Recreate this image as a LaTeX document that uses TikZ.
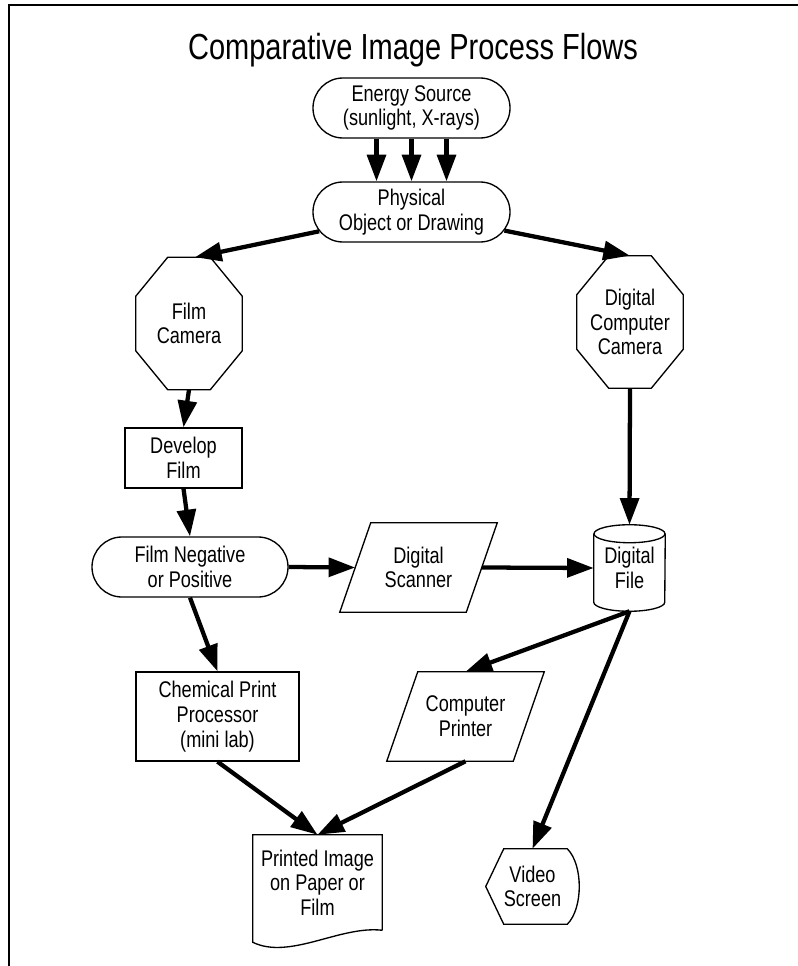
\documentclass[tikz,border=0pt]{standalone}
\usepackage{fontspec}
\setmainfont{Liberation Sans}[FakeStretch=0.8]
\usetikzlibrary{arrows.meta,shapes.misc,calc}
\newcommand{\octo}[1]{\draw[shapeline] ($(#1.north west)+(32,0)$) -- ($(#1.north east)+(-32,0)$) -- ($(#1.north east)+(0,39)$) -- ($(#1.south east)+(0,-39)$) -- ($(#1.south east)+(-32,0)$) -- ($(#1.south west)+(32,0)$) -- ($(#1.south west)+(0,-39)$) -- ($(#1.north west)+(0,39)$) -- cycle;}
\newcommand{\para}[1]{\draw[shapeline] ($(#1.north west)+(31,0)$) -- (#1.north east) -- ($(#1.south east)+(-31,0)$) -- (#1.south west) -- cycle;}
\begin{document}
\begin{tikzpicture}[x=0.75pt,y=-0.75pt,
  every node/.style={font=\fontsize{17}{18.5}\selectfont, align=center, inner sep=0pt},
  shapeline/.style={line width=1pt},
  box/.style={draw, line width=1pt},
  stadium/.style={box, rounded rectangle, minimum width=147.75pt, minimum height=45pt},
  flow/.style={line width=3.2pt, -{Triangle[length=20pt,width=14pt]}}
]
\useasboundingbox (0,0) rectangle (798,966);
\draw[line width=1.2pt] (9,966) -- (9,5) -- (798,5);
\node[font=\fontsize{27.2}{30}\selectfont, anchor=base] (title) at (413,60) {Comparative Image Process Flows};

\node[stadium] (en) at (411.5,108) {Energy Source\\(sunlight, X-rays)};
\node[stadium] (ph) at (411.5,212) {Physical\\Object or Drawing};
\node[minimum width=79.5pt, minimum height=99pt] (fc) at (189,323.5) {Film\\Camera};
\node[minimum width=79.5pt, minimum height=99pt] (dc) at (630,322) {Digital\\Computer\\Camera};
\node[box, minimum width=87.75pt, minimum height=45pt] (dv) at (183.5,458) {Develop\\Film};
\node[stadium, minimum width=147pt] (fn) at (190,567) {Film Negative\\or Positive};
\node[minimum width=117.75pt, minimum height=66.75pt] (sc) at (418.5,567.5) {Digital\\Scanner};
\node[minimum width=53.25pt, minimum height=64.5pt] (df) at (629.5,568) {\raisebox{-4pt}{\shortstack{Digital\\File}}};
\node[box, minimum width=122.25pt, minimum height=66.75pt] (ch) at (217.5,716.5) {Chemical Print\\Processor\\(mini lab)};
\node[minimum width=117.75pt, minimum height=66.75pt] (pr) at (465.5,716.5) {Computer\\Printer};
\node[minimum width=96.75pt, minimum height=71.25pt] (pi) at (317.5,882.5) {Printed Image\\on Paper or\\Film};
\node[minimum width=69.75pt, minimum height=56.25pt] (vs) at (532.5,886.5) {Video\\Screen};

% custom outlines
\octo{fc}
\octo{dc}
\para{sc}
\para{pr}
% cylinder
\draw[shapeline] ($(df.north)+(0,9)$) ellipse [x radius=26.625pt, y radius=6.75pt];
\draw[shapeline] ($(df.north west)+(0,9)$) -- ($(df.south west)+(0,-9)$) arc[start angle=180, end angle=360, x radius=26.625pt, y radius=6.75pt] -- ($(df.north east)+(0,9)$);
% document
\draw[shapeline] (pi.south east) -- (pi.north east) -- (pi.north west) -- ($(pi.south west)+(0,12)$) .. controls ($(pi.south west)+(37,30)$) and ($(pi.south east)+(-42,-5)$) .. (pi.south east);
% display
\draw[shapeline] (vs.west) -- ($(vs.north west)+(18,0)$) -- ($(vs.north east)+(-12,0)$) .. controls ($(vs.north east)+(4,16)$) and ($(vs.south east)+(4,-16)$) .. ($(vs.south east)+(-12,0)$) -- ($(vs.south west)+(18,0)$) -- cycle;

\coordinate (scl) at ($(sc.west)+(15.5,0)$);
\coordinate (scr) at ($(sc.east)+(-15.5,0)$);

\draw[flow] ($(en.south)+(-35,0)$) -- ($(ph.north)+(-35,0)$);
\draw[flow] (en.south) -- (ph.north);
\draw[flow] ($(en.south)+(35,0)$) -- ($(ph.north)+(35,0)$);
\draw[flow] (ph) -- ($(fc.north)+(6,0)$);
\draw[flow] (ph) -- (dc.north);
\draw[flow] (fc.south) -- (dv.north);
\draw[flow] (dv.south) -- (fn.north);
\draw[flow] (fn.east) -- (scl);
\draw[flow] (scr) -- (df.west);
\draw[flow] (dc.south) -- (df.north);
\draw[flow] (fn.south) -- (ch.north);
\draw[flow] (df.south) -- (pr.north);
\draw[flow] (df.south) -- (vs.north);
\draw[flow] (ch.south) -- (pi.north);
\draw[flow] (pr.south) -- (pi.north);
\end{tikzpicture}
\end{document}
